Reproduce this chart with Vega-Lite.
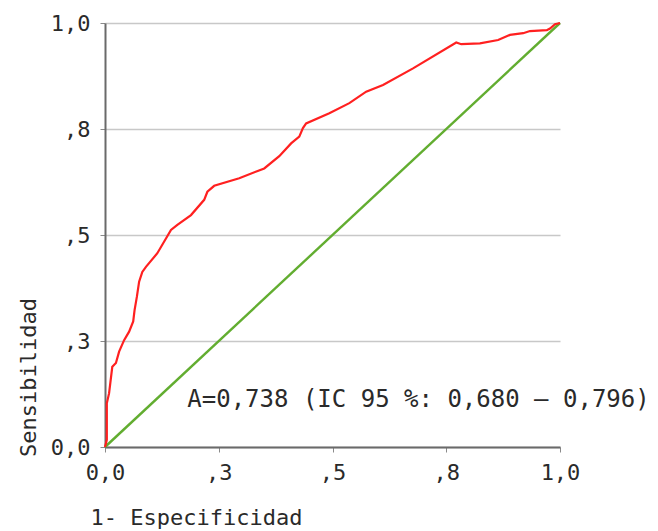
{
  "$schema": "https://vega.github.io/schema/vega-lite/v6.json",
  "autosize": {"type": "none"},
  "padding": {"left": 105, "top": 23, "right": 98, "bottom": 84},
  "width": 455,
  "height": 424,
  "background": "white",
  "config": {
    "view": {"stroke": null},
    "font": "DejaVu Sans Mono",
    "axis": {
      "labelFont": "DejaVu Sans Mono",
      "titleFont": "DejaVu Sans Mono",
      "labelFontSize": 22,
      "titleFontSize": 22,
      "labelColor": "#2a2a2a",
      "titleColor": "#2a2a2a",
      "titleFontWeight": "normal",
      "labelFlush": false,
      "labelOverlap": false,
      "domainColor": "#6a6a6a",
      "domainWidth": 2,
      "tickColor": "#8a8a8a",
      "tickWidth": 1,
      "tickSize": 5,
      "gridColor": "#c8c8c8",
      "gridWidth": 1.5
    }
  },
  "layer": [
    {
      "data": {"values": [{"fpr": 0, "tpr": 0}, {"fpr": 1, "tpr": 1}]},
      "mark": {"type": "line", "color": "#62ad30", "strokeWidth": 2.4},
      "encoding": {
        "x": {
          "field": "fpr", "type": "quantitative",
          "scale": {"domain": [0, 1], "nice": false, "zero": false},
          "axis": {
            "values": [0, 0.25, 0.5, 0.75, 1],
            "grid": false,
            "labelPadding": 10,
            "labelExpr": "datum.value == 0 ? '0,0' : datum.value == 1 ? '1,0' : datum.value == 0.25 ? ',3' : datum.value == 0.5 ? ',5' : ',8'",
            "title": "1- Especificidad",
            "titleX": 91,
            "titleY": 70,
            "titleAlign": "center",
            "titleBaseline": "middle"
          }
        },
        "y": {
          "field": "tpr", "type": "quantitative",
          "scale": {"domain": [0, 1], "nice": false, "zero": false},
          "axis": {
            "values": [0, 0.25, 0.5, 0.75, 1],
            "grid": true,
            "labelPadding": 10,
            "labelExpr": "datum.value == 0 ? '0,0' : datum.value == 1 ? '1,0' : datum.value == 0.25 ? ',3' : datum.value == 0.5 ? ',5' : ',8'",
            "title": "Sensibilidad",
            "titleAngle": 270,
            "titleX": -77,
            "titleY": 354,
            "titleAlign": "center",
            "titleBaseline": "middle"
          }
        }
      }
    },
    {
      "data": {"values": [
        {"fpr": 0.000, "tpr": 0.000},
        {"fpr": 0.004, "tpr": 0.017},
        {"fpr": 0.004, "tpr": 0.103},
        {"fpr": 0.009, "tpr": 0.127},
        {"fpr": 0.016, "tpr": 0.189},
        {"fpr": 0.024, "tpr": 0.198},
        {"fpr": 0.031, "tpr": 0.225},
        {"fpr": 0.042, "tpr": 0.252},
        {"fpr": 0.053, "tpr": 0.272},
        {"fpr": 0.062, "tpr": 0.296},
        {"fpr": 0.065, "tpr": 0.323},
        {"fpr": 0.070, "tpr": 0.354},
        {"fpr": 0.075, "tpr": 0.390},
        {"fpr": 0.082, "tpr": 0.413},
        {"fpr": 0.090, "tpr": 0.425},
        {"fpr": 0.115, "tpr": 0.457},
        {"fpr": 0.145, "tpr": 0.512},
        {"fpr": 0.159, "tpr": 0.524},
        {"fpr": 0.189, "tpr": 0.547},
        {"fpr": 0.218, "tpr": 0.583},
        {"fpr": 0.225, "tpr": 0.602},
        {"fpr": 0.240, "tpr": 0.616},
        {"fpr": 0.295, "tpr": 0.634},
        {"fpr": 0.350, "tpr": 0.657},
        {"fpr": 0.383, "tpr": 0.686},
        {"fpr": 0.409, "tpr": 0.716},
        {"fpr": 0.427, "tpr": 0.732},
        {"fpr": 0.435, "tpr": 0.752},
        {"fpr": 0.442, "tpr": 0.763},
        {"fpr": 0.493, "tpr": 0.787},
        {"fpr": 0.537, "tpr": 0.811},
        {"fpr": 0.574, "tpr": 0.838},
        {"fpr": 0.611, "tpr": 0.854},
        {"fpr": 0.677, "tpr": 0.893},
        {"fpr": 0.772, "tpr": 0.954},
        {"fpr": 0.783, "tpr": 0.950},
        {"fpr": 0.824, "tpr": 0.952},
        {"fpr": 0.864, "tpr": 0.960},
        {"fpr": 0.890, "tpr": 0.972},
        {"fpr": 0.919, "tpr": 0.976},
        {"fpr": 0.934, "tpr": 0.981},
        {"fpr": 0.971, "tpr": 0.983},
        {"fpr": 0.978, "tpr": 0.987},
        {"fpr": 0.989, "tpr": 0.997},
        {"fpr": 1.000, "tpr": 1.000}
      ]},
      "mark": {"type": "line", "color": "#ff2020", "strokeWidth": 2.2},
      "encoding": {
        "x": {"field": "fpr", "type": "quantitative"},
        "y": {"field": "tpr", "type": "quantitative"},
        "order": {"field": "fpr", "type": "quantitative"}
      }
    },
    {
      "data": {"values": [{"label": "A=0,738 (IC 95 %: 0,680 – 0,796)"}]},
      "mark": {"type": "text", "font": "DejaVu Sans Mono", "fontSize": 24, "color": "#2a2a2a", "align": "center", "baseline": "alphabetic"},
      "encoding": {
        "x": {"datum": 0.689, "type": "quantitative"},
        "y": {"datum": 0.094, "type": "quantitative"},
        "text": {"field": "label"}
      }
    }
  ]
}
